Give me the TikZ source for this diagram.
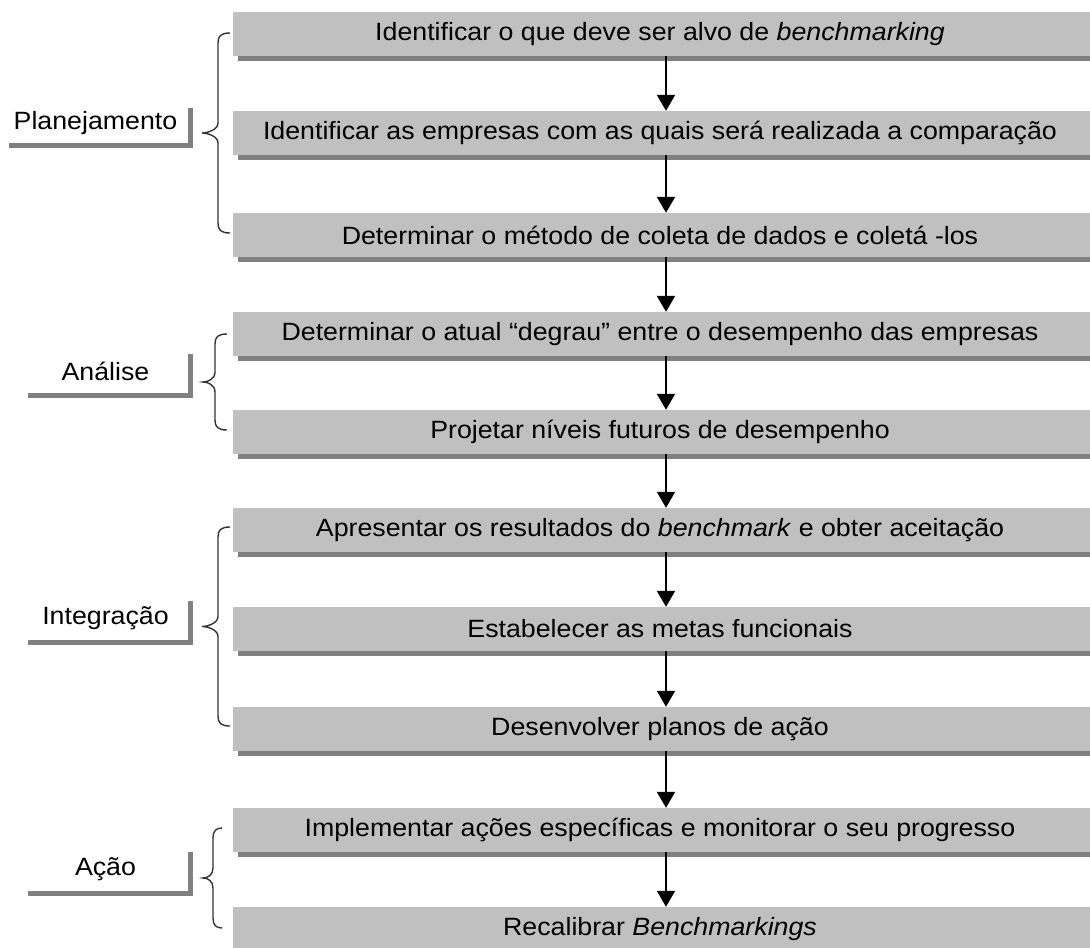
\documentclass[tikz,border=0pt]{standalone}
\usepackage{fontspec}
\setmainfont[FakeStretch=1.07]{Liberation Sans}
\usetikzlibrary{shadows,arrows.meta}
\definecolor{boxgray}{HTML}{C0C0C0}
\definecolor{shadowgray}{HTML}{808080}
\definecolor{bracegray}{HTML}{333333}
\tikzset{
  stepbox/.style={rectangle, fill=boxgray, minimum width=870pt, minimum height=44pt, inner sep=0pt,
    font=\fontsize{25}{30}\selectfont, execute at end node={\hspace*{16pt}},
    drop shadow={shadow xshift=5pt, shadow yshift=-5pt, fill=shadowgray, opacity=1}},
  phasebox/.style={rectangle, fill=white, minimum height=44pt, inner sep=0pt,
    font=\fontsize{25}{30}\selectfont,
    drop shadow={shadow xshift=5pt, shadow yshift=-5pt, fill=shadowgray, opacity=1}},
  flow/.style={line width=2pt, -{Triangle[width=18pt,length=16pt]}},
  bracestyle/.style={line width=1.4pt, draw=bracegray}
}
\newcommand\groupbrace[5]{% xr xm xl yt yb
  \pgfmathsetmacro\braceMid{(#4+#5)/2}
  \draw[bracestyle] (#1,#4) .. controls ({#2+3},#4) and (#2,{#4+3}) .. (#2,{#4+10})
    -- (#2,{\braceMid-10}) .. controls (#2,{\braceMid-3}) and ({#3+5},\braceMid) .. (#3,\braceMid)
    .. controls ({#3+5},\braceMid) and (#2,{\braceMid+3}) .. (#2,{\braceMid+10})
    -- (#2,{#5-10}) .. controls (#2,{#5-3}) and ({#2+3},#5) .. (#1,#5);}
\begin{document}
\begin{tikzpicture}[x=1pt,y=-1pt]
\useasboundingbox (0,0) rectangle (1090,948);
\clip (0,0) rectangle (1090,948);
\fill[white] (0,0) rectangle (1090,948);

\node[stepbox] (b1) at (668,34) {Identificar o que deve ser alvo de \textit{benchmarking}};
\node[stepbox] (b2) at (668,133) {Identificar as empresas com as quais será realizada a comparação};
\node[stepbox] (b3) at (668,235) {Determinar o método de coleta de dados e coletá -los};
\node[stepbox] (b4) at (668,334) {Determinar o atual “degrau” entre o desempenho das empresas};
\node[stepbox] (b5) at (668,432) {Projetar níveis futuros de desempenho};
\node[stepbox] (b6) at (668,530) {Apresentar os resultados do \textit{benchmark} e obter aceitação};
\node[stepbox] (b7) at (668,629) {Estabelecer as metas funcionais};
\node[stepbox] (b8) at (668,729) {Desenvolver planos de ação};
\node[stepbox] (b9) at (668,830) {Implementar ações específicas e monitorar o seu progresso};
\node[stepbox] (b10) at (668,929) {Recalibrar \textit{Benchmarkings}};

\coordinate (ax) at (666,0);
\foreach \a/\b in {b1/b2,b2/b3,b3/b4,b4/b5,b5/b6,b6/b7,b7/b8,b8/b9,b9/b10}
  \draw[flow] (\a.south -| ax) -- (\b.north -| ax);

\node[phasebox, minimum width=184pt, minimum height=40pt] (p1) at (95.5,123) {Planejamento};
\node[phasebox, minimum width=165pt] (p2) at (105.5,371) {Análise};
\node[phasebox, minimum width=165pt] (p3) at (105.5,618) {Integração};
\node[phasebox, minimum width=165pt] (p4) at (105.5,869) {Ação};

\groupbrace{230}{218}{202}{33}{233}
\groupbrace{227}{215}{203}{334}{430}
\groupbrace{230}{218}{202}{527}{726}
\groupbrace{222}{213}{203}{828}{928}
\end{tikzpicture}
\end{document}
